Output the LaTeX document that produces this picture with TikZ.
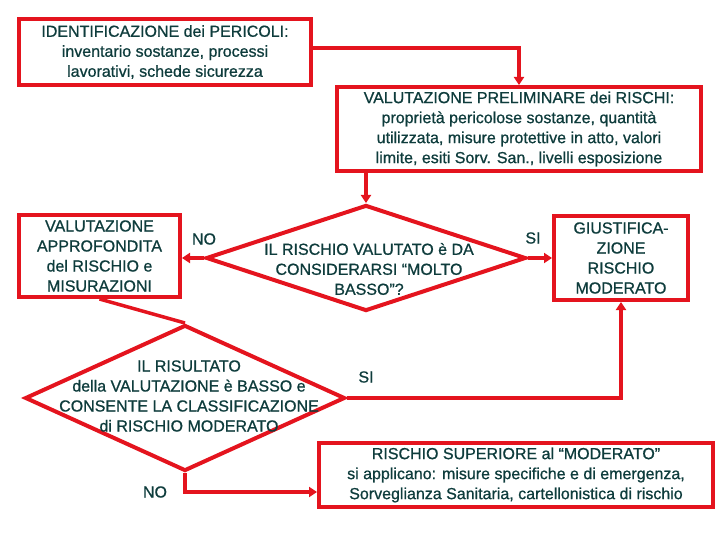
\documentclass[tikz,border=0pt]{standalone}
\usepackage{fontspec}
\setmainfont{Liberation Sans}[FakeBold=0.8]
\usetikzlibrary{shapes.geometric,arrows.meta}
\definecolor{bordo}{RGB}{228,20,30}
\definecolor{testo}{RGB}{14,60,60}

\begin{document}
\begin{tikzpicture}[x=1pt, y=-1pt,
  every node/.style={align=center, text=testo, font=\fontsize{16}{20}\selectfont},
  box/.style={rectangle, draw=bordo, line width=4pt, inner sep=0pt},
  rombo/.style={diamond, draw=bordo, line width=4pt, inner sep=0pt},
  freccia/.style={draw=bordo, line width=3.5pt, -{Triangle[length=8pt,width=10pt]}},
  linea/.style={draw=bordo, line width=3.5pt}]
\useasboundingbox (0,0) rectangle (720,540);
\node (ident) [box, minimum width=292pt, minimum height=66pt] at (165,52) {IDENTIFICAZIONE dei PERICOLI:\\ inventario sostanze, processi\\ lavorativi, schede sicurezza};
\node (prelim) [box, minimum width=364pt, minimum height=84pt] at (519,129) {VALUTAZIONE PRELIMINARE dei RISCHI:\\ proprietà pericolose sostanze, quantità\\ utilizzata, misure protettive in atto, valori\\ limite, esiti Sorv. San., livelli esposizione};
\node (dia1) [rombo, minimum width=320pt, minimum height=106pt] at (366,258) {};
\node (dia1testo) at (369,269) {IL RISCHIO VALUTATO è DA\\ CONSIDERARSI “MOLTO\\ BASSO”?};
\node (approf) [box, minimum width=161pt, minimum height=82pt] at (99.5,256) {VALUTAZIONE\\ APPROFONDITA\\ del RISCHIO e\\ MISURAZIONI};
\node (giust) [box, minimum width=134pt, minimum height=84pt] at (621,258) {GIUSTIFICA-\\ ZIONE\\ RISCHIO\\ MODERATO};
\node (dia2) [rombo, minimum width=320pt, minimum height=146pt] at (185,398) {};
\node (dia2testo) at (189,396) {IL RISULTATO\\ della VALUTAZIONE è BASSO e\\ CONSENTE LA CLASSIFICAZIONE\\ di RISCHIO MODERATO};
\node (superiore) [box, minimum width=394pt, minimum height=64pt] at (516,475) {RISCHIO SUPERIORE al “MODERATO”\\ si applicano: misure specifiche e di emergenza,\\ Sorveglianza Sanitaria, cartellonistica di rischio};
\node (no1) at (204,239) {NO};
\node (si1) at (533,238) {SI};
\node (si2) at (366,377) {SI};
\node (no2) at (155,492) {NO};
\draw[freccia] ([yshift=4pt]ident.east) -| (prelim.north);
\draw[freccia] (dia1.north |- prelim.south) -- (dia1.north);
\draw[freccia] (dia1.west) -- (dia1.west -| approf.east);
\draw[freccia] (dia1.east) -- (dia1.east -| giust.west);
\draw[linea] (approf.south) -- (dia2.north);
\draw[freccia] (dia2.east) -| (giust.south);
\draw[freccia] (dia2.south) |- ([yshift=-17pt]superiore.west);
\end{tikzpicture}
\end{document}
